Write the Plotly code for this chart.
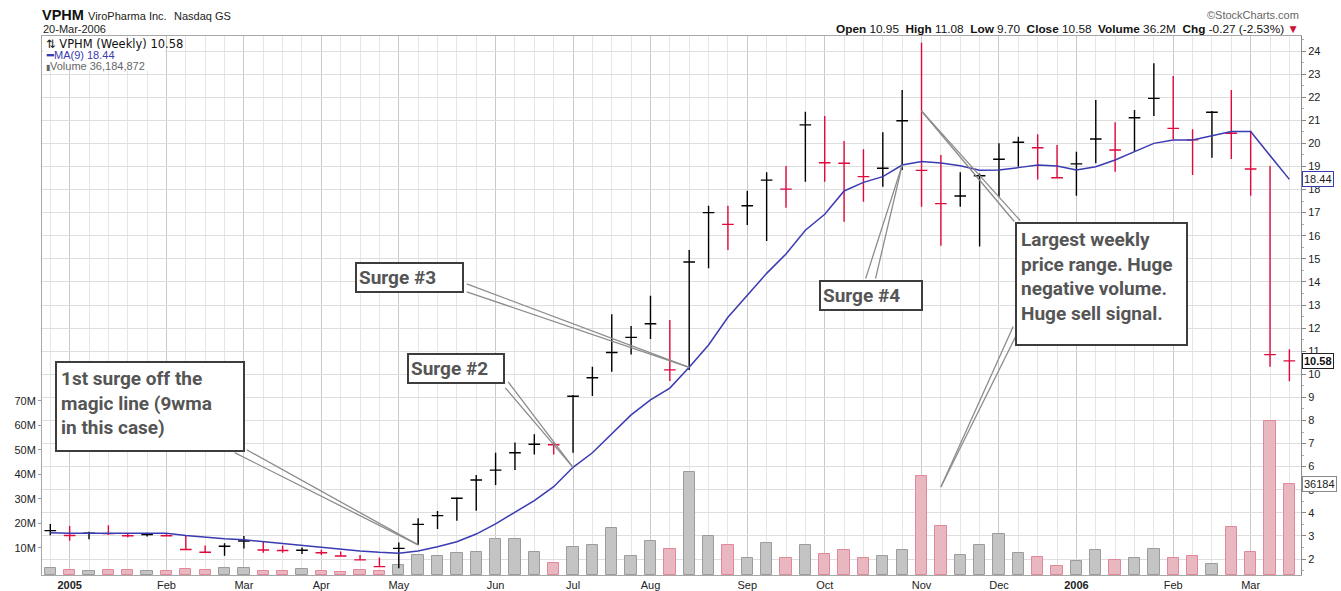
import plotly.graph_objects as go
import pandas as pd

# ---------------- data ----------------
week_dates = [d.strftime('%Y-%m-%d') for d in pd.date_range('2004-12-27', periods=65, freq='7D')]

highs = [3.52, 3.43, 3.18, 3.46, 3.08, 3.14, 3.08, 3.04, 2.58, 2.68,
         3.00, 2.75, 2.58, 2.50, 2.40, 2.32, 2.17, 2.07, 2.71, 3.76,
         4.08, 4.67, 5.64, 6.60, 7.05, 7.40, 7.04, 9.10, 10.33, 12.60,
         12.09, 13.40, 12.35, 15.38, 17.30, 17.30, 17.95, 18.75, 19.02, 21.37,
         21.19, 20.10, 19.74, 20.48, 22.31, 24.36, 19.50, 18.75, 18.70, 20.00,
         20.29, 20.39, 19.93, 19.64, 21.88, 20.91, 21.45, 23.47, 22.92, 20.61,
         21.40, 22.31, 20.55, 19.02, 11.08]
lows = [3.03, 2.79, 2.85, 3.04, 2.94, 2.97, 2.97, 2.39, 2.25, 2.14,
        2.46, 2.27, 2.27, 2.22, 2.17, 2.12, 1.95, 1.66, 1.60, 2.61,
        3.30, 3.66, 4.09, 5.20, 5.85, 6.53, 6.53, 6.60, 9.06, 10.11,
        10.86, 11.53, 9.71, 10.19, 14.59, 15.38, 16.46, 15.77, 17.21, 18.34,
        18.34, 16.61, 17.47, 18.12, 18.85, 17.26, 15.57, 17.26, 15.53, 17.69,
        18.99, 18.44, 18.49, 17.73, 19.14, 18.77, 19.64, 21.19, 20.18, 18.63,
        19.38, 19.32, 17.73, 10.33, 9.70]
closes = [3.23, 3.02, 3.12, 3.10, 3.01, 3.06, 3.01, 2.41, 2.29, 2.55,
          2.78, 2.39, 2.37, 2.38, 2.27, 2.13, 1.96, 1.67, 2.46, 3.50,
          3.88, 4.63, 5.42, 5.85, 6.60, 6.97, 6.95, 9.05, 9.85, 10.94,
          11.60, 12.19, 10.19, 14.86, 17.00, 16.49, 17.30, 18.41, 18.02, 20.80,
          19.16, 19.14, 18.56, 18.92, 20.98, 18.83, 17.39, 17.72, 18.60, 19.31,
          20.05, 19.81, 18.51, 19.11, 20.19, 19.71, 21.11, 21.95, 20.65, 20.15,
          21.35, 20.44, 18.89, 10.85, 10.58]
# left ticks are drawn at the same level as the right ticks in the picture
opens = [3.23, 3.02, 3.12, 3.10, 3.01, 3.06, 3.01, 2.41, 2.29, 2.55,
         2.78, 2.39, 2.37, 2.38, 2.27, 2.13, 1.96, 1.67, 2.46, 3.50,
         3.88, 4.63, 5.42, 5.85, 6.60, 6.97, 6.95, 9.05, 9.85, 10.94,
         11.60, 12.19, 10.19, 14.86, 17.00, 16.49, 17.30, 18.41, 18.02, 20.80,
         19.16, 19.14, 18.56, 18.92, 20.98, 18.83, 17.39, 17.72, 18.60, 19.31,
         20.05, 19.81, 18.51, 19.11, 20.19, 19.71, 21.11, 21.95, 20.65, 20.15,
         21.35, 20.44, 18.89, 10.85, 10.58]
ma9 = [3.14, 3.11, 3.12, 3.12, 3.11, 3.11, 3.11, 3.02, 2.94, 2.88,
       2.83, 2.75, 2.65, 2.58, 2.49, 2.42, 2.35, 2.29, 2.25, 2.35,
       2.53, 2.75, 3.08, 3.52, 4.01, 4.53, 5.13, 5.97, 6.60, 7.44,
       8.24, 8.89, 9.40, 10.30, 11.27, 12.47, 13.43, 14.37, 15.21, 16.24,
       16.93, 17.94, 18.31, 18.56, 19.06, 19.21, 19.15, 19.03, 18.84, 18.85,
       18.95, 19.06, 19.02, 18.85, 18.99, 19.28, 19.64, 20.00, 20.15, 20.15,
       20.33, 20.51, 20.51, 19.50, 18.44]
volume_m = [1.5, 0.7, 0.4, 0.7, 0.7, 0.4, 0.4, 1.3, 0.7, 1.5,
            1.5, 0.4, 0.4, 1.1, 0.4, 0.2, 0.7, 0.4, 2.9, 7.0,
            6.4, 7.8, 8.1, 13.5, 13.5, 8.1, 3.7, 10.4, 10.9, 18.0,
            6.6, 12.7, 9.4, 40.8, 14.9, 10.9, 5.6, 11.8, 5.6, 10.9,
            7.4, 9.0, 5.6, 6.6, 9.0, 39.4, 18.9, 7.0, 10.9, 15.6,
            7.7, 6.0, 2.5, 4.5, 9.0, 5.1, 5.6, 9.4, 5.6, 6.4,
            3.3, 18.3, 8.2, 61.9, 36.184872]

tick_dates = ['2005-01-03', '2005-02-07', '2005-03-07', '2005-04-04', '2005-05-02',
              '2005-06-06', '2005-07-04', '2005-08-01', '2005-09-05', '2005-10-03',
              '2005-11-07', '2005-12-05', '2006-01-02', '2006-02-06', '2006-03-06']
tick_labels = ['<b>2005</b>', 'Feb', 'Mar', 'Apr', 'May', 'Jun', 'Jul', 'Aug',
               'Sep', 'Oct', 'Nov', 'Dec', '<b>2006</b>', 'Feb', 'Mar']
vol_tick_vals = [10, 20, 30, 40, 50, 60, 70]
vol_tick_labels = ['10M', '20M', '30M', '40M', '50M', '60M', '70M']

# ---------------- styling ----------------
BLACK = '#000000'
RED = '#e0083c'
MA_COLOR = '#3a3ab2'
VOL_MIN, VOL_MAX = -1.19, 219.3
PRICE_MIN, PRICE_MAX = 1.307, 24.65
FONT = 'Liberation Sans, Arial, sans-serif'
BOX_FONT = dict(family='Roboto, sans-serif', size=19, color='#555555', weight='bold')

up = [i == 0 or closes[i] >= closes[i - 1] for i in range(len(closes))]

fig = go.Figure()

# volume bars (left axis)
fig.add_trace(go.Bar(
    x=week_dates, y=[v - VOL_MIN for v in volume_m], base=VOL_MIN, yaxis='y',
    width=0.585 * 7 * 86400000,
    marker=dict(color=['#c4c4c4' if u else '#e9b7c0' for u in up],
                line=dict(color=['#9c9c9c' if u else '#e2889a' for u in up], width=1)),
    hoverinfo='skip'))

# OHLC bars, coloured by close vs previous close
for flag, col in ((True, BLACK), (False, RED)):
    idx = [i for i in range(len(closes)) if up[i] == flag]
    fig.add_trace(go.Ohlc(
        x=[week_dates[i] for i in idx],
        open=[opens[i] for i in idx], high=[highs[i] for i in idx],
        low=[lows[i] for i in idx], close=[closes[i] for i in idx],
        yaxis='y2', tickwidth=0.3,
        increasing=dict(line=dict(color=col, width=1.4)),
        decreasing=dict(line=dict(color=col, width=1.4)),
        hoverinfo='skip'))

# MA(9)
fig.add_trace(go.Scatter(x=week_dates, y=ma9, yaxis='y2', mode='lines',
                         line=dict(color=MA_COLOR, width=1.5), hoverinfo='skip'))

# ---------------- layout ----------------
L, T, W, H = 42, 36, 1259, 539


def px(xp):
    return (xp - L) / W


def py(yp):
    return (T + H - yp) / H


annotations = []

# header
annotations += [
    dict(text='<b>VPHM</b>', x=px(40), y=py(15), xanchor='left', yanchor='middle',
         font=dict(family=FONT, size=14.5, color='#111')),
    dict(text='ViroPharma Inc.', x=px(86), y=py(16), xanchor='left', yanchor='middle',
         font=dict(family=FONT, size=11, color='#222')),
    dict(text='Nasdaq GS', x=px(172), y=py(16), xanchor='left', yanchor='middle',
         font=dict(family=FONT, size=11, color='#222')),
    dict(text='20-Mar-2006', x=px(41), y=py(29), xanchor='left', yanchor='middle',
         font=dict(family=FONT, size=11, color='#222')),
    dict(text='©StockCharts.com', x=1, y=py(15), xanchor='right', yanchor='middle',
         font=dict(family=FONT, size=11, color='#666')),
    dict(text='<b>Open</b> 10.95  <b>High</b> 11.08  <b>Low</b> 9.70  <b>Close</b> 10.58  '
              '<b>Volume</b> 36.2M  <b>Chg</b> -0.27 (-2.53%) <span style="color:#d0103a">▼</span>',
         x=1, y=py(29), xanchor='right', yanchor='middle',
         font=dict(family=FONT, size=11.8, color='#111')),
]

# in-chart legend
annotations += [
    dict(text='⇅ VPHM (Weekly) 10.58', x=px(44), y=py(44), xanchor='left', yanchor='middle',
         font=dict(family='DejaVu Sans', size=11.5, color='#111')),
    dict(text='<b>━</b>MA(9) 18.44', x=px(44), y=py(55), xanchor='left', yanchor='middle',
         font=dict(family=FONT, size=11, color=MA_COLOR)),
    dict(text='<span style="font-size:8px">▮</span>Volume 36,184,872', x=px(44), y=py(65.5),
         xanchor='left', yanchor='middle', font=dict(family=FONT, size=11, color='#666')),
]

# last-value tags on the right axis
annotations += [
    dict(text=f'{ma9[-1]:.2f}', xref='paper', x=1, xanchor='left', xshift=1, yref='y2', y=ma9[-1],
         yanchor='middle', bordercolor=MA_COLOR, borderwidth=1, borderpad=1, bgcolor='white',
         font=dict(family=FONT, size=11, color='#222'), showarrow=False),
    dict(text=f'<b>{closes[-1]:.2f}</b>', xref='paper', x=1, xanchor='left', xshift=1, yref='y2',
         y=closes[-1], yanchor='middle', bordercolor='#222', borderwidth=1, borderpad=1,
         bgcolor='white', font=dict(family=FONT, size=11, color='#111'), showarrow=False),
    dict(text=f'{int(volume_m[-1] * 1000)}', xref='paper', x=1, xanchor='left', xshift=1, yref='y',
         y=volume_m[-1], yanchor='middle', bordercolor='#888', borderwidth=1, borderpad=1,
         bgcolor='white', font=dict(family=FONT, size=11, color='#222'), showarrow=False),
]

# callout lines (double lines), heads on data, tails as pixel offsets
callouts = [
    (week_dates[19], lows[19], 'y2', [(-185, -93), (-173, -96)]),
    (week_dates[27], ma9[27], 'y2', [(-69, -81), (-66, -87)]),
    (week_dates[33], ma9[33], 'y2', [(-224, -84), (-224, -76)]),
    (week_dates[44], ma9[44], 'y2', [(-37, 115), (-27, 115)]),
    (week_dates[45], 21.4, 'y2', [(94, 112), (100, 111)]),
    (week_dates[46], 34.8, 'y', [(73, -162), (78, -157)]),
]
for hx, hy, yr, tails in callouts:
    for axp, ayp in tails:
        annotations.append(dict(x=hx, y=hy, xref='x', yref=yr, ax=axp, ay=ayp, text='',
                                showarrow=True, arrowhead=0, arrowwidth=1.3,
                                arrowcolor='#8c8c8c', standoff=0, startstandoff=0))

# callout boxes
boxes = [
    ('1st surge off the<br>magic line (9wma<br>in this case)', 55, 361, 178, 79),
    ('Surge #2', 407, 353, 90, None),
    ('Surge #3', 355, 262, 101, None),
    ('Surge #4', 819, 280, 96, None),
    ('Largest weekly<br>price range. Huge<br>negative volume.<br>Huge sell signal.', 1015, 222, 161, 112),
]
for text, bx, by, bw, bh in boxes:
    a = dict(text=text, x=px(bx), y=py(by), xanchor='left', yanchor='top', align='left',
             valign='top', width=bw, bordercolor='#3d3d3d', borderwidth=2,
             borderpad=4 if bh else 2, bgcolor='white', font=BOX_FONT, showarrow=False)
    if bh:
        a['height'] = bh
    annotations.append(a)

for a in annotations:
    a.setdefault('xref', 'paper')
    a.setdefault('yref', 'paper')
    a.setdefault('showarrow', False)

fig.update_layout(
    width=1341, height=591,
    margin=dict(l=L, r=1341 - L - W, t=T, b=591 - T - H, autoexpand=False),
    paper_bgcolor='white', plot_bgcolor='white',
    showlegend=False,
    bargap=0,
    xaxis=dict(
        type='date', range=['2004-12-24 00:00', '2006-03-24 04:48'],
        tickmode='array', tickvals=tick_dates, ticktext=tick_labels,
        showgrid=True, gridcolor='#c9c9c9', gridwidth=1,
        minor=dict(tick0='2004-12-27', dtick=7 * 86400000, showgrid=True,
                   gridcolor='#e6e6e6', gridwidth=1),
        ticks='', tickfont=dict(family=FONT, size=11, color='#222'),
        showline=True, mirror=True, linecolor='#a8a8a8', linewidth=1,
        rangeslider=dict(visible=False), fixedrange=True, automargin=False),
    yaxis=dict(
        range=[VOL_MIN, VOL_MAX], side='left', tickmode='array',
        tickvals=vol_tick_vals, ticktext=vol_tick_labels, showgrid=False, zeroline=False,
        ticks='outside', ticklen=3, tickcolor='#999',
        tickfont=dict(family=FONT, size=11, color='#222'),
        showline=True, linecolor='#a8a8a8', linewidth=1, fixedrange=True, automargin=False),
    yaxis2=dict(
        range=[PRICE_MIN, PRICE_MAX], side='right', overlaying='y',
        tick0=0, dtick=1, showgrid=True, gridcolor='#dedede', gridwidth=1, zeroline=False,
        ticks='outside', ticklen=4, tickcolor='#888',
        minor=dict(dtick=0.5, ticks='outside', ticklen=2, tickcolor='#aaa', showgrid=False),
        tickfont=dict(family=FONT, size=11, color='#222'),
        showline=True, linecolor='#8a8a8a', linewidth=1, fixedrange=True, automargin=False),
    shapes=[dict(type='rect', xref='paper', yref='paper', x0=0.0008, x1=px(165),
                 y0=py(70), y1=0.998, fillcolor='white', line=dict(width=0), layer='above')],
    annotations=annotations,
)

fig.write_html('out.html', config={'displayModeBar': False},
               post_script="document.body.style.margin='0';document.body.style.overflow='hidden';")
